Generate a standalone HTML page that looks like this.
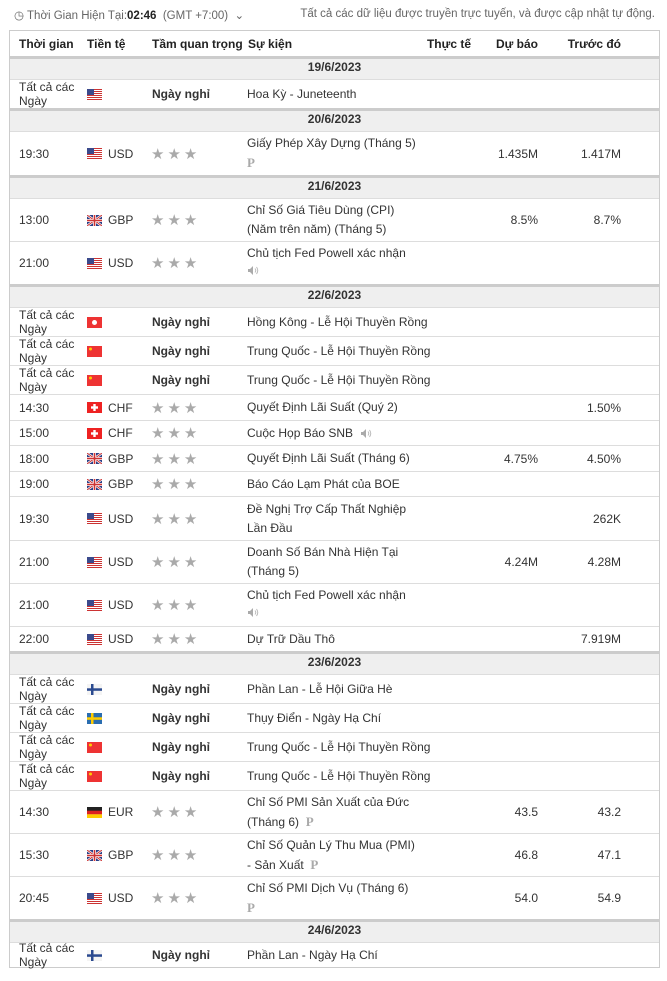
<!DOCTYPE html>
<html><head><meta charset="utf-8">
<style>
body{margin:0;width:667px;height:981px;background:#fff;font-family:"Liberation Sans",Arial,sans-serif;font-size:12px;color:#333;position:relative;overflow:hidden}
.top{position:absolute;top:8px;font-size:11.5px;color:#666}
.tbl{position:absolute;left:9px;top:30px;width:649px;height:936px;border:1px solid #ccc}
.r{position:absolute;left:0;width:649px;border-top:1px solid #ddd;box-sizing:border-box}
.d{background:#efefef;border-top:3px solid #ccc;font-weight:bold;text-align:center;display:flex;align-items:center;justify-content:center;padding-bottom:4px}
.c{position:absolute;top:0;bottom:0;display:flex;align-items:center}
.t{left:9px;line-height:14px}
.f{left:77px}
.cc{left:98px}
.s{left:141px;color:#aaa;font-size:15px;letter-spacing:3px}
.h{left:142px;font-weight:bold}
.e{left:237px;line-height:19px;display:flex;align-items:center}
.a{right:188px}.fc{right:121px}.p{right:38px}
.P{font-family:"Liberation Serif",serif;font-weight:bold;color:#aaa;font-size:13px}
svg.fl{width:15px;height:11px;display:block}
</style></head><body>
<svg width="0" height="0" style="position:absolute">
<symbol id="us" viewBox="0 0 15 11"><rect width="15" height="11" fill="#fff"/><g fill="#c33"><rect y="0" width="15" height="1"/><rect y="2" width="15" height="1"/><rect y="4" width="15" height="1"/><rect y="6" width="15" height="1"/><rect y="8" width="15" height="1"/><rect y="10" width="15" height="1"/></g><rect width="7" height="6" fill="#3b4a8c"/></symbol>
<symbol id="gb" viewBox="0 0 15 11"><rect width="15" height="11" fill="#2a3f86"/><path d="M0 0L15 11M15 0L0 11" stroke="#fff" stroke-width="2.5"/><path d="M0 0L15 11M15 0L0 11" stroke="#c33" stroke-width="1"/><rect x="6" width="3" height="11" fill="#fff"/><rect y="4" width="15" height="3" fill="#fff"/><rect x="6.7" width="1.6" height="11" fill="#c33"/><rect y="4.7" width="15" height="1.6" fill="#c33"/></symbol>
<symbol id="ch" viewBox="0 0 15 11"><rect width="15" height="11" fill="#e22"/><rect x="6.3" y="2" width="2.4" height="7" fill="#fff"/><rect x="4" y="4.3" width="7" height="2.4" fill="#fff"/></symbol>
<symbol id="cn" viewBox="0 0 15 11"><rect width="15" height="11" fill="#e33"/><circle cx="3.5" cy="3" r="1.5" fill="#fc0"/></symbol>
<symbol id="hk" viewBox="0 0 15 11"><rect width="15" height="11" fill="#e33"/><circle cx="7.5" cy="5.5" r="2.5" fill="#fff"/></symbol>
<symbol id="fi" viewBox="0 0 15 11"><rect width="15" height="11" fill="#f4f4f4"/><rect x="4" width="2.5" height="11" fill="#2b4a8f"/><rect y="4.3" width="15" height="2.5" fill="#2b4a8f"/></symbol>
<symbol id="se" viewBox="0 0 15 11"><rect width="15" height="11" fill="#2a6db0"/><rect x="4" width="2.5" height="11" fill="#fc0"/><rect y="4.3" width="15" height="2.5" fill="#fc0"/></symbol>
<symbol id="de" viewBox="0 0 15 11"><rect width="15" height="4" fill="#222"/><rect y="3.7" width="15" height="3.7" fill="#d22"/><rect y="7.3" width="15" height="3.7" fill="#fc0"/></symbol>
<symbol id="sp" viewBox="0 0 12 11"><path d="M1 4h2l3-3v9l-3-3H1z" fill="#aaa"/><path d="M8 3.5q1.5 2 0 4M9.5 2q2.5 3.5 0 7" stroke="#bbb" fill="none"/></symbol>
</svg>
<div class="top" style="left:14px">&#9719; Thời Gian Hiện Tại:<b style="color:#222">02:46</b> &nbsp;(GMT +7:00) &nbsp;&#8964;</div>
<div class="top" style="right:12px">Tất cả các dữ liệu được truyền trực tuyến, và được cập nhật tự động.</div>
<div class="tbl">
<div class="r" style="top:0;height:25px;border:0;font-weight:bold;color:#222">
<div class="c t">Thời gian</div><div class="c" style="left:77px">Tiền tệ</div><div class="c" style="left:142px">Tầm quan trọng</div><div class="c" style="left:238px">Sự kiện</div><div class="c a">Thực tế</div><div class="c fc">Dự báo</div><div class="c p" style="right:38px">Trước đó</div></div>

<div class="r d" style="top:25px;height:23px">19/6/2023</div>
<div class="r" style="top:48px;height:29px"><div class="c t">Tất cả các<br>Ngày</div><div class="c f"><svg class="fl"><use href="#us"/></svg></div><div class="c h">Ngày nghỉ</div><div class="c e">Hoa Kỳ - Juneteenth</div></div>

<div class="r d" style="top:77px;height:23px">20/6/2023</div>
<div class="r" style="top:100px;height:44px"><div class="c t">19:30</div><div class="c f"><svg class="fl"><use href="#us"/></svg></div><div class="c cc">USD</div><div class="c s">★★★</div><div class="c e"><div>Giấy Phép Xây Dựng (Tháng 5)<br><span class="P">P</span></div></div><div class="c fc">1.435M</div><div class="c p">1.417M</div></div>

<div class="r d" style="top:144px;height:23px">21/6/2023</div>
<div class="r" style="top:167px;height:43px"><div class="c t">13:00</div><div class="c f"><svg class="fl"><use href="#gb"/></svg></div><div class="c cc">GBP</div><div class="c s">★★★</div><div class="c e"><div>Chỉ Số Giá Tiêu Dùng (CPI)<br>(Năm trên năm) (Tháng 5)</div></div><div class="c fc">8.5%</div><div class="c p">8.7%</div></div>
<div class="r" style="top:210px;height:43px"><div class="c t">21:00</div><div class="c f"><svg class="fl"><use href="#us"/></svg></div><div class="c cc">USD</div><div class="c s">★★★</div><div class="c e"><div>Chủ tịch Fed Powell xác nhận<br><svg width="12" height="11"><use href="#sp"/></svg></div></div></div>

<div class="r d" style="top:253px;height:23px">22/6/2023</div>
<div class="r" style="top:276px;height:29px"><div class="c t">Tất cả các<br>Ngày</div><div class="c f"><svg class="fl"><use href="#hk"/></svg></div><div class="c h">Ngày nghỉ</div><div class="c e">Hồng Kông - Lễ Hội Thuyền Rồng</div></div>
<div class="r" style="top:305px;height:29px"><div class="c t">Tất cả các<br>Ngày</div><div class="c f"><svg class="fl"><use href="#cn"/></svg></div><div class="c h">Ngày nghỉ</div><div class="c e">Trung Quốc - Lễ Hội Thuyền Rồng</div></div>
<div class="r" style="top:334px;height:29px"><div class="c t">Tất cả các<br>Ngày</div><div class="c f"><svg class="fl"><use href="#cn"/></svg></div><div class="c h">Ngày nghỉ</div><div class="c e">Trung Quốc - Lễ Hội Thuyền Rồng</div></div>
<div class="r" style="top:363px;height:26px"><div class="c t">14:30</div><div class="c f"><svg class="fl"><use href="#ch"/></svg></div><div class="c cc">CHF</div><div class="c s">★★★</div><div class="c e">Quyết Định Lãi Suất (Quý 2)</div><div class="c p">1.50%</div></div>
<div class="r" style="top:389px;height:25px"><div class="c t">15:00</div><div class="c f"><svg class="fl"><use href="#ch"/></svg></div><div class="c cc">CHF</div><div class="c s">★★★</div><div class="c e">Cuộc Họp Báo SNB &nbsp;<svg width="12" height="11"><use href="#sp"/></svg></div></div>
<div class="r" style="top:414px;height:26px"><div class="c t">18:00</div><div class="c f"><svg class="fl"><use href="#gb"/></svg></div><div class="c cc">GBP</div><div class="c s">★★★</div><div class="c e">Quyết Định Lãi Suất (Tháng 6)</div><div class="c fc">4.75%</div><div class="c p">4.50%</div></div>
<div class="r" style="top:440px;height:25px"><div class="c t">19:00</div><div class="c f"><svg class="fl"><use href="#gb"/></svg></div><div class="c cc">GBP</div><div class="c s">★★★</div><div class="c e">Báo Cáo Lạm Phát của BOE</div></div>
<div class="r" style="top:465px;height:44px"><div class="c t">19:30</div><div class="c f"><svg class="fl"><use href="#us"/></svg></div><div class="c cc">USD</div><div class="c s">★★★</div><div class="c e"><div>Đề Nghị Trợ Cấp Thất Nghiệp<br>Lần Đầu</div></div><div class="c p">262K</div></div>
<div class="r" style="top:509px;height:43px"><div class="c t">21:00</div><div class="c f"><svg class="fl"><use href="#us"/></svg></div><div class="c cc">USD</div><div class="c s">★★★</div><div class="c e"><div>Doanh Số Bán Nhà Hiện Tại<br>(Tháng 5)</div></div><div class="c fc">4.24M</div><div class="c p">4.28M</div></div>
<div class="r" style="top:552px;height:43px"><div class="c t">21:00</div><div class="c f"><svg class="fl"><use href="#us"/></svg></div><div class="c cc">USD</div><div class="c s">★★★</div><div class="c e"><div>Chủ tịch Fed Powell xác nhận<br><svg width="12" height="11"><use href="#sp"/></svg></div></div></div>
<div class="r" style="top:595px;height:25px"><div class="c t">22:00</div><div class="c f"><svg class="fl"><use href="#us"/></svg></div><div class="c cc">USD</div><div class="c s">★★★</div><div class="c e">Dự Trữ Dầu Thô</div><div class="c p">7.919M</div></div>

<div class="r d" style="top:620px;height:23px">23/6/2023</div>
<div class="r" style="top:643px;height:29px"><div class="c t">Tất cả các<br>Ngày</div><div class="c f"><svg class="fl"><use href="#fi"/></svg></div><div class="c h">Ngày nghỉ</div><div class="c e">Phần Lan - Lễ Hội Giữa Hè</div></div>
<div class="r" style="top:672px;height:29px"><div class="c t">Tất cả các<br>Ngày</div><div class="c f"><svg class="fl"><use href="#se"/></svg></div><div class="c h">Ngày nghỉ</div><div class="c e">Thụy Điển - Ngày Hạ Chí</div></div>
<div class="r" style="top:701px;height:29px"><div class="c t">Tất cả các<br>Ngày</div><div class="c f"><svg class="fl"><use href="#cn"/></svg></div><div class="c h">Ngày nghỉ</div><div class="c e">Trung Quốc - Lễ Hội Thuyền Rồng</div></div>
<div class="r" style="top:730px;height:29px"><div class="c t">Tất cả các<br>Ngày</div><div class="c f"><svg class="fl"><use href="#cn"/></svg></div><div class="c h">Ngày nghỉ</div><div class="c e">Trung Quốc - Lễ Hội Thuyền Rồng</div></div>
<div class="r" style="top:759px;height:43px"><div class="c t">14:30</div><div class="c f"><svg class="fl"><use href="#de"/></svg></div><div class="c cc">EUR</div><div class="c s">★★★</div><div class="c e"><div>Chỉ Số PMI Sản Xuất của Đức<br>(Tháng 6) &nbsp;<span class="P">P</span></div></div><div class="c fc">43.5</div><div class="c p">43.2</div></div>
<div class="r" style="top:802px;height:43px"><div class="c t">15:30</div><div class="c f"><svg class="fl"><use href="#gb"/></svg></div><div class="c cc">GBP</div><div class="c s">★★★</div><div class="c e"><div>Chỉ Số Quản Lý Thu Mua (PMI)<br>- Sản Xuất &nbsp;<span class="P">P</span></div></div><div class="c fc">46.8</div><div class="c p">47.1</div></div>
<div class="r" style="top:845px;height:43px"><div class="c t">20:45</div><div class="c f"><svg class="fl"><use href="#us"/></svg></div><div class="c cc">USD</div><div class="c s">★★★</div><div class="c e"><div>Chỉ Số PMI Dịch Vụ (Tháng 6)<br><span class="P">P</span></div></div><div class="c fc">54.0</div><div class="c p">54.9</div></div>

<div class="r d" style="top:888px;height:23px">24/6/2023</div>
<div class="r" style="top:911px;height:25px"><div class="c t">Tất cả các<br>Ngày</div><div class="c f"><svg class="fl"><use href="#fi"/></svg></div><div class="c h">Ngày nghỉ</div><div class="c e">Phần Lan - Ngày Hạ Chí</div></div>
</div>
</body></html>
